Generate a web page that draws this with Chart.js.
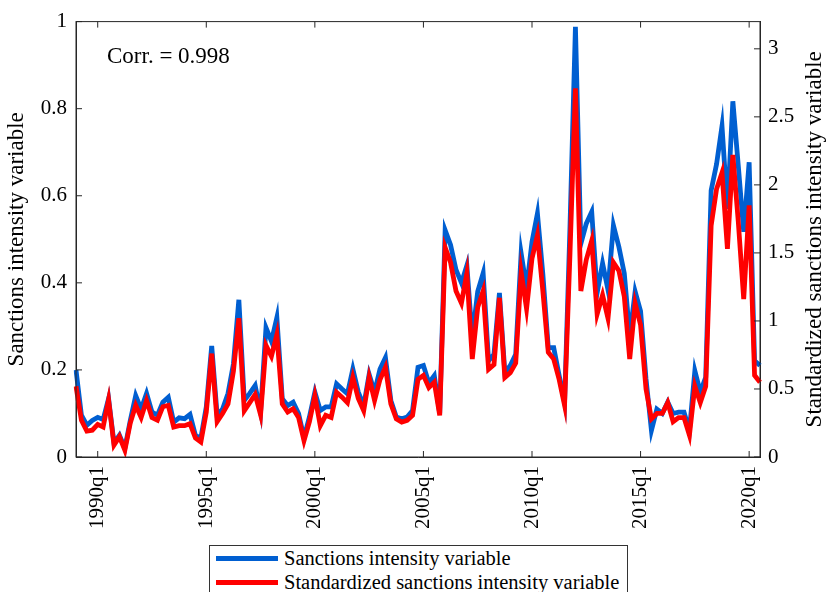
<!DOCTYPE html>
<html>
<head>
<meta charset="utf-8">
<script src="https://cdn.jsdelivr.net/npm/chart.js@4/dist/chart.umd.min.js"></script>
<style>
  html, body { margin: 0; padding: 0; background: #fff; }
  #wrap { position: relative; width: 827px; height: 592px; overflow: hidden; }
  #legend {
    position: absolute; left: 209px; top: 545px; width: 419px; height: 60px;
    border: 1px solid #333; background: #fff; box-sizing: border-box;
    font-family: "Times New Roman", "Liberation Serif", "DejaVu Serif", serif; font-size: 20.5px; color: #000;
  }
  #legend .row { position: absolute; left: 6px; height: 22px; display: flex; align-items: center; white-space: nowrap; }
  #legend .swatch { width: 62px; height: 5px; margin-right: 6px; }
</style>
</head>
<body>
<div id="wrap">
  <canvas id="chart"></canvas>
  <div id="legend"></div>
</div>
<script>
// quarterly sample 1989q1 .. 2020q3
const startYear = 1989;
const quarters = [];
for (let y = startYear; y <= 2020; y++) {
  for (let q = 1; q <= 4; q++) {
    if (y === 2020 && q > 3) break;
    quarters.push(y + 'q' + q);
  }
}

const seriesNames = ['Sanctions intensity variable', 'Standardized sanctions intensity variable'];
const seriesColors = ['#005fd1', '#ff0000'];

// left axis (0..1)
const sanctionsIntensity = [
  0.20, 0.096, 0.073, 0.084, 0.091, 0.086, 0.134, 0.032, 0.05, 0.02,
  0.084, 0.141, 0.11, 0.146, 0.103, 0.096, 0.126, 0.137, 0.08, 0.09,
  0.088, 0.098, 0.05, 0.043, 0.115, 0.255, 0.096, 0.11, 0.146, 0.214,
  0.361, 0.13, 0.146, 0.164, 0.103, 0.297, 0.266, 0.32, 0.134, 0.118,
  0.126, 0.10, 0.044, 0.092, 0.149, 0.107, 0.115, 0.115, 0.168, 0.156,
  0.145, 0.202, 0.149, 0.118, 0.19, 0.149, 0.202, 0.228, 0.13, 0.092,
  0.088, 0.092, 0.107, 0.206, 0.21, 0.17, 0.187, 0.10, 0.521, 0.487,
  0.43, 0.40, 0.44, 0.274, 0.38, 0.422, 0.221, 0.236, 0.377, 0.194,
  0.21, 0.236, 0.468, 0.388, 0.494, 0.559, 0.42, 0.251, 0.251, 0.187,
  0.125, 0.53, 0.988, 0.49, 0.536, 0.563, 0.377, 0.445, 0.384, 0.532,
  0.483, 0.422, 0.278, 0.38, 0.335, 0.18, 0.061, 0.11, 0.10, 0.126,
  0.10, 0.103, 0.103, 0.061, 0.198, 0.149, 0.183, 0.612, 0.673, 0.76,
  0.57, 0.817, 0.669, 0.517, 0.677, 0.221, 0.21
];

// right axis (0..3.2)
const standardizedIntensity = [
  0.52, 0.27, 0.19, 0.197, 0.24, 0.22, 0.42, 0.088, 0.15, 0.05,
  0.25, 0.38, 0.29, 0.415, 0.29, 0.27, 0.37, 0.38, 0.22, 0.23,
  0.23, 0.245, 0.14, 0.11, 0.33, 0.76, 0.26, 0.32, 0.39, 0.63,
  1.02, 0.34, 0.40, 0.46, 0.31, 0.82, 0.74, 0.90, 0.39, 0.33,
  0.355, 0.29, 0.12, 0.26, 0.45, 0.23, 0.306, 0.29, 0.475, 0.44,
  0.40, 0.585, 0.43, 0.34, 0.585, 0.415, 0.57, 0.66, 0.39, 0.28,
  0.257, 0.27, 0.306, 0.57, 0.60, 0.51, 0.55, 0.306, 1.54, 1.43,
  1.22, 1.13, 1.35, 0.72, 1.10, 1.22, 0.645, 0.68, 1.17, 0.585,
  0.62, 0.69, 1.36, 1.09, 1.46, 1.63, 1.22, 0.77, 0.72, 0.57,
  0.38, 1.50, 2.71, 1.22, 1.45, 1.59, 1.05, 1.19, 1.02, 1.43,
  1.37, 1.18, 0.72, 1.13, 0.97, 0.50, 0.28, 0.32, 0.32, 0.40,
  0.26, 0.29, 0.29, 0.16, 0.52, 0.40, 0.52, 1.70, 1.97, 2.09,
  1.53, 2.22, 1.73, 1.16, 1.85, 0.60, 0.55
];

const corrText = 'Corr. = 0.998';
const rightTitle = 'Standardized sanctions intensity variable';

const serif = '"Times New Roman", "Liberation Serif", "DejaVu Serif", serif';
const tickColor = '#262626';

function isMajor(label) {
  return label.endsWith('q1') && parseInt(label) % 5 === 0;
}

function plainNum(v) {
  return String(Math.round(v * 100) / 100);
}

// MATLAB-style inward ticks, full box, right title, annotation
const boxPlugin = {
  id: 'boxPlugin',
  afterDraw(chart) {
    const ctx = chart.ctx;
    const a = chart.chartArea;
    const len = 6;
    ctx.save();
    ctx.strokeStyle = tickColor;
    ctx.lineWidth = 1;
    ctx.strokeRect(a.left, a.top, a.right - a.left, a.bottom - a.top);
    ctx.beginPath();
    const xs = chart.scales.x;
    quarters.forEach((q, i) => {
      if (!isMajor(q)) return;
      const px = xs.getPixelForValue(i);
      ctx.moveTo(px, a.bottom); ctx.lineTo(px, a.bottom - len);
      ctx.moveTo(px, a.top); ctx.lineTo(px, a.top + len);
    });
    chart.scales.y.ticks.forEach(t => {
      const py = chart.scales.y.getPixelForValue(t.value);
      ctx.moveTo(a.left, py); ctx.lineTo(a.left + len, py);
    });
    chart.scales.y1.ticks.forEach(t => {
      const py = chart.scales.y1.getPixelForValue(t.value);
      ctx.moveTo(a.right, py); ctx.lineTo(a.right - len, py);
    });
    ctx.stroke();

    ctx.fillStyle = '#000';
    ctx.font = '23px ' + serif;
    ctx.textBaseline = 'middle';
    ctx.textAlign = 'left';
    ctx.fillText(corrText, a.left + 31, a.top + 35);

    ctx.translate(815, (a.top + a.bottom) / 2);
    ctx.rotate(-Math.PI / 2);
    ctx.textAlign = 'center';
    ctx.font = '23px ' + serif;
    ctx.fillText(rightTitle, 0, 0);
    ctx.restore();
  }
};

const ctx = document.getElementById('chart').getContext('2d');
new Chart(ctx, {
  type: 'line',
  data: {
    labels: quarters,
    datasets: [
      {
        label: seriesNames[0],
        data: sanctionsIntensity,
        yAxisID: 'y',
        borderColor: seriesColors[0],
        borderWidth: 4.8,
        pointRadius: 0,
        tension: 0,
        borderJoinStyle: 'miter',
        order: 1
      },
      {
        label: seriesNames[1],
        data: standardizedIntensity,
        yAxisID: 'y1',
        borderColor: seriesColors[1],
        borderWidth: 4.8,
        pointRadius: 0,
        tension: 0,
        borderJoinStyle: 'miter',
        order: 0
      }
    ]
  },
  options: {
    responsive: true,
    maintainAspectRatio: false,
    animation: false,
    layout: { padding: { top: 18, left: 0, right: 0, bottom: 0 } },
    plugins: { legend: { display: false }, tooltip: { enabled: false } },
    scales: {
      x: {
        type: 'category',
        offset: false,
        grid: { display: false, drawTicks: false },
        border: { display: true, color: tickColor },
        ticks: {
          autoSkip: false,
          maxRotation: 90,
          minRotation: 90,
          padding: 9,
          color: '#000',
          font: { family: serif, size: 21 },
          callback: function (v) {
            const l = quarters[v];
            return isMajor(l) ? l : '';
          }
        },
        afterFit: s => { s.height = 135; }
      },
      y: {
        position: 'left',
        min: 0, max: 1,
        grid: { display: false, drawTicks: false },
        border: { display: true, color: tickColor },
        ticks: { stepSize: 0.2, padding: 9, color: '#000', font: { family: serif, size: 21 }, callback: plainNum },
        title: {
          display: true, text: seriesNames[0], color: '#000',
          font: { family: serif, size: 23 }, padding: { top: 3, bottom: 0 }
        },
        afterFit: s => { s.width = 76; }
      },
      y1: {
        position: 'right',
        min: 0, max: 3.2,
        grid: { display: false, drawTicks: false },
        border: { display: true, color: tickColor },
        ticks: { stepSize: 0.5, padding: 8, color: '#000', font: { family: serif, size: 21 }, callback: plainNum },
        afterBuildTicks: s => {
          s.ticks = s.ticks.filter(t => Math.abs(t.value * 2 - Math.round(t.value * 2)) < 1e-9);
        },
        afterFit: s => { s.width = 67; }
      }
    }
  },
  plugins: [boxPlugin]
});

// legend box below the axes
const legend = document.getElementById('legend');
seriesNames.forEach((name, i) => {
  const row = document.createElement('div');
  row.className = 'row';
  row.style.top = (1 + i * 24) + 'px';
  const sw = document.createElement('span');
  sw.className = 'swatch';
  sw.style.background = seriesColors[i];
  const tx = document.createElement('span');
  tx.textContent = name;
  row.appendChild(sw);
  row.appendChild(tx);
  legend.appendChild(row);
});
</script>
</body>
</html>
